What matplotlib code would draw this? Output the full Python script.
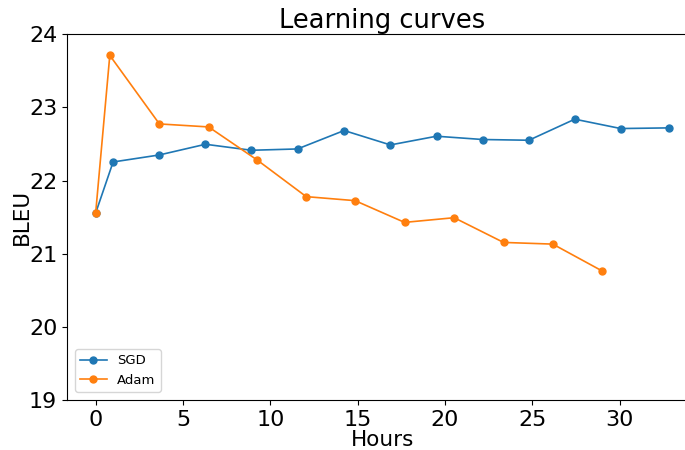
import matplotlib
matplotlib.use("Agg")
import matplotlib.pyplot as plt

sgd_hours = [0.0, 1.00, 3.65, 6.29, 8.92, 11.56, 14.23, 16.88, 19.52, 22.17, 24.81, 27.44, 30.07, 32.82]
sgd_bleu = [21.556, 22.255, 22.351, 22.497, 22.415, 22.433, 22.685, 22.488, 22.607, 22.562, 22.552, 22.840, 22.712, 22.721]

adam_hours = [0.0, 0.81, 3.65, 6.47, 9.25, 12.06, 14.86, 17.69, 20.53, 23.36, 26.18, 28.99]
adam_bleu = [21.556, 23.712, 22.775, 22.734, 22.282, 21.781, 21.726, 21.429, 21.493, 21.155, 21.132, 20.767]

fig = plt.figure(figsize=(6.85, 4.5), dpi=100)
ax = fig.add_axes([0.0978, 0.111, 0.9203, 0.8127])
ax.plot(sgd_hours, sgd_bleu, marker="o", markersize=5, linewidth=1.2, color="#1f77b4", label="SGD")
ax.plot(adam_hours, adam_bleu, marker="o", markersize=5, linewidth=1.2, color="#ff7f0e", label="Adam")
ax.set_ylim(19, 24)
ax.set_xticks([0, 5, 10, 15, 20, 25, 30])
ax.set_yticks([19, 20, 21, 22, 23, 24])
ax.tick_params(labelsize=16)
ax.set_xlabel("Hours", fontsize=15.5, labelpad=0)
ax.set_ylabel("BLEU", fontsize=15.5, labelpad=-2)
ax.set_title("Learning curves", fontsize=18.5, pad=3)
ax.legend(loc="lower left", fontsize=9.5, borderaxespad=0.6)
fig.savefig("out.png", dpi=100)
